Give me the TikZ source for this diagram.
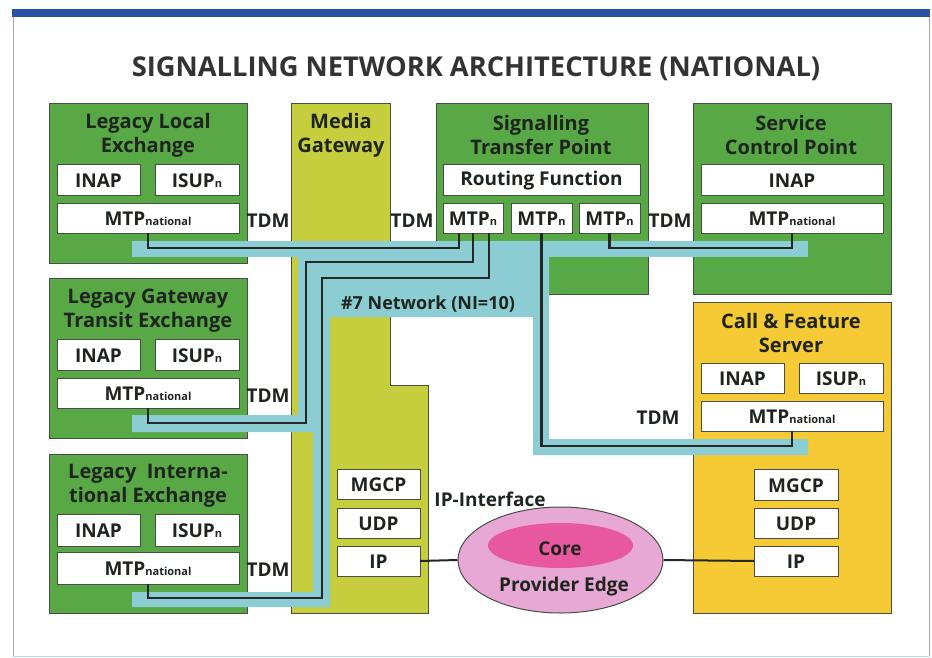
\documentclass[tikz,border=0pt]{standalone}
\usepackage{fontspec}
\setmainfont{Open Sans}
\usetikzlibrary{fit,shapes.geometric,calc}
\definecolor{greenc}{RGB}{88,168,70}
\definecolor{mgc}{RGB}{198,206,62}
\definecolor{cfsc}{RGB}{246,202,52}
\definecolor{netc}{RGB}{140,205,212}
\definecolor{pinko}{RGB}{232,168,214}
\definecolor{pinki}{RGB}{232,88,158}
\definecolor{barc}{RGB}{42,82,165}
\definecolor{edgec}{RGB}{70,78,70}
\definecolor{txtc}{RGB}{30,36,30}
\newcommand\titlefnt{\fontsize{27.3}{30}\selectfont}
\newcommand\headfnt{\fontsize{20}{24}\selectfont}
\newcommand\innerfnt{\fontsize{19}{24}\selectfont}
\newcommand\subfnt{\fontsize{11}{14}\selectfont}
\newcommand\tdmfnt{\fontsize{19}{24}\selectfont}
\begin{document}
\begin{tikzpicture}[x=1pt,y=-1pt,
  font=\bfseries, text=txtc,
  unitbox/.style={draw=edgec, line width=1pt, inner sep=0pt, outer sep=0pt},
  gbox/.style={unitbox, fill=greenc},
  ybox/.style={unitbox, fill=cfsc},
  wbox/.style={unitbox, fill=white},
  ilab/.style={font=\bfseries\innerfnt, text=txtc, yshift=-1pt},
  head/.style={font=\bfseries\headfnt, align=center, inner sep=0pt},
  tdm/.style={font=\bfseries\tdmfnt, inner sep=0pt},
  sig/.style={draw=black!85, line width=2.6pt, line join=miter},
  iplink/.style={draw=black!85, line width=2pt},
]
\useasboundingbox (0,0) rectangle (932,657);
% frame
\fill[barc] (12,9) rectangle (930,17);
\draw[gray!70, line width=0.8pt] (13,17) -- (13,656);
\draw[gray!70, line width=0.8pt] (929,17) -- (929,656);
\draw[netc!70, line width=1pt] (13,656) -- (929,656);
% title
\node[font=\bfseries\titlefnt, text=black!80] (title) at (476,69) {SIGNALLING NETWORK ARCHITECTURE (NATIONAL)};
% containers
\node[gbox, fit={(49,103) (247,263)}] (lle) {};
\node[gbox, fit={(49,278) (247,438)}] (lgte) {};
\node[gbox, fit={(49,454) (247,613)}] (lie) {};
\node[gbox, fit={(436,103) (648,294)}] (stp) {};
\node[gbox, fit={(693,103) (891,294)}] (scp) {};
\node[ybox, fit={(693,302) (891,613)}] (cfs) {};
\draw[edgec, line width=1pt, fill=mgc] (291,103) -- (390,103) -- (390,385) -- (428,385) -- (428,613) -- (291,613) -- cycle;
% #7 network band
\fill[netc] (132,241) rectangle (808,257);
\fill[netc] (298,256) -- (549,256) -- (549,439) -- (808,439) -- (808,455) -- (533,455) -- (533,317)
  -- (330,317) -- (330,607) -- (132,607) -- (132,592) -- (313,592) -- (313,432) -- (132,432)
  -- (132,415) -- (298,415) -- cycle;
% headings
\node[head] (h-lle) at (148,135) {Legacy Local\\Exchange};
\node[head] (h-mg) at (341,135) {Media\\Gateway};
\node[head] (h-stp) at (541,135) {Signalling\\Transfer Point};
\node[head] (h-scp) at (791,135) {Service\\Control Point};
\node[head] (h-lgte) at (148,311) {Legacy Gateway\\Transit Exchange};
\node[head] (h-lie) at (148,486) {Legacy\ \ Interna-\\tional Exchange};
\node[head] (h-cfs) at (791,333) {Call \& Feature\\Server};
% inner boxes
\node[wbox, fit={(57,164) (140,195)}, label={[ilab]center:INAP}] (inap1) {};
\node[wbox, fit={(155,164) (239,195)}, label={[ilab]center:ISUP{\subfnt n}}] (isup1) {};
\node[wbox, fit={(57,203) (239,233)}, label={[ilab]center:MTP{\subfnt national}}] (mtp1) {};
\node[wbox, fit={(57,339) (140,370)}, label={[ilab]center:INAP}] (inap2) {};
\node[wbox, fit={(155,339) (239,370)}, label={[ilab]center:ISUP{\subfnt n}}] (isup2) {};
\node[wbox, fit={(57,378) (239,408)}, label={[ilab]center:MTP{\subfnt national}}] (mtp2) {};
\node[wbox, fit={(57,514) (140,546)}, label={[ilab]center:INAP}] (inap3) {};
\node[wbox, fit={(155,514) (239,546)}, label={[ilab]center:ISUP{\subfnt n}}] (isup3) {};
\node[wbox, fit={(57,552) (239,584)}, label={[ilab]center:MTP{\subfnt national}}] (mtp3) {};
\node[wbox, fit={(443,164) (640,195)}, label={[ilab]center:Routing Function}] (rf) {};
\node[wbox, fit={(443,203) (503,233)}, label={[ilab]center:MTP{\subfnt n}}] (mtpa) {};
\node[wbox, fit={(511,203) (572,233)}, label={[ilab]center:MTP{\subfnt n}}] (mtpb) {};
\node[wbox, fit={(579,203) (640,233)}, label={[ilab]center:MTP{\subfnt n}}] (mtpc) {};
\node[wbox, fit={(701,164) (883,195)}, label={[ilab]center:INAP}] (inap4) {};
\node[wbox, fit={(701,203) (883,233)}, label={[ilab]center:MTP{\subfnt national}}] (mtp4) {};
\node[wbox, fit={(701,363) (784,393)}, label={[ilab]center:INAP}] (inap5) {};
\node[wbox, fit={(799,363) (883,393)}, label={[ilab]center:ISUP{\subfnt n}}] (isup5) {};
\node[wbox, fit={(701,401) (883,431)}, label={[ilab]center:MTP{\subfnt national}}] (mtp5) {};
\node[wbox, fit={(754,469) (838,500)}, label={[ilab]center:MGCP}] (mgcp2) {};
\node[wbox, fit={(754,508) (838,538)}, label={[ilab]center:UDP}] (udp2) {};
\node[wbox, fit={(754,546) (838,576)}, label={[ilab]center:IP}] (ip2) {};
\node[wbox, fit={(337,469) (420,499)}, label={[ilab]center:MGCP}] (mgcp1) {};
\node[wbox, fit={(337,508) (420,538)}, label={[ilab]center:UDP}] (udp1) {};
\node[wbox, fit={(337,546) (420,576)}, label={[ilab]center:IP}] (ip1) {};
% signalling links
\draw[sig] (mtp1.south) -- ++(0,15) -| ($(mtpa.south)+(-14,0)$);
\draw[sig] (mtp2.south) -- ++(0,15) -| (306,262) -| (mtpa.south);
\draw[sig] (mtp3.south) -- ++(0,14) -| (322,278) -| ($(mtpa.south)+(16,0)$);
\draw[sig] (mtpb.south) -- ++(0,213) -| (mtp5.south);
\draw[sig] (mtpc.south) -- ++(0,15) -| (mtp4.south);
% labels
\node[tdm] (tdm1) at (268,221) {TDM};
\node[tdm] (tdm2) at (412,221) {TDM};
\node[tdm] (tdm3) at (670,221) {TDM};
\node[tdm] (tdm4) at (268,396) {TDM};
\node[tdm] (tdm5) at (268,570) {TDM};
\node[tdm] (tdm6) at (658,418) {TDM};
\node[font=\bfseries\fontsize{18}{22}\selectfont, inner sep=0pt] (net7) at (428,304) {\#7 Network (NI=10)};
% IP core
\node[ellipse, draw=edgec, line width=1pt, fill=pinko, minimum width=205pt, minimum height=106pt, inner sep=0pt] (pe) at (560.5,560) {};
\node[ellipse, fill=pinki, minimum width=145pt, minimum height=45pt, inner sep=0pt] (core) at (560.5,545.5) {};
\node[font=\bfseries\innerfnt, inner sep=0pt] (coretxt) at (560,549) {Core};
\node[font=\bfseries\innerfnt, inner sep=0pt] (petxt) at (564,587) {Provider Edge};
\node[font=\bfseries\innerfnt, inner sep=0pt] (ipif) at (490,499) {IP-Interface};
\draw[iplink] (ip1.east) -- (pe.west);
\draw[iplink] (pe.east) -- (ip2.west);
\end{tikzpicture}
\end{document}
